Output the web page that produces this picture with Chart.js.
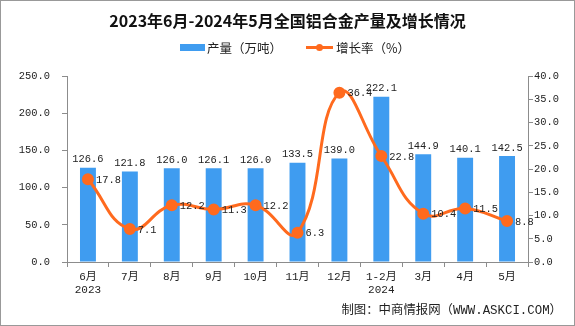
<!DOCTYPE html>
<html><head><meta charset="utf-8">
<script src="https://cdn.jsdelivr.net/npm/chart.js@4/dist/chart.umd.min.js"></script>
<style>html,body{margin:0;padding:0;background:#fff}#wrap{width:575px;height:326px;position:relative}</style>
</head><body><div id="wrap"><canvas id="c" width="575" height="326"></canvas></div>
<script>
const categories = [['6月','2023'],'7月','8月','9月','10月','11月','12月',['1-2月','2024'],'3月','4月','5月'];
const output = [126.6,121.8,126.0,126.1,126.0,133.5,139.0,222.1,144.9,140.1,142.5];
const growth = [17.8,7.1,12.2,11.3,12.2,6.3,36.4,22.8,10.4,11.5,8.8];
const titleText = '2023年6月-2024年5月全国铝合金产量及增长情况';
const legendBar = '产量（万吨）';
const legendLine = '增长率（%）';
const footer = '制图：中商情报网（WWW.ASKCI.COM）';

const MONO = '"Liberation Mono","DejaVu Sans Mono","Noto Sans CJK SC",monospace';
const BLUE = '#3f9cf0';
const ORANGE = '#ff6a1e';
const AXIS = '#8c8c8c';

const deco = {
  id:'deco',
  afterDatasetsDraw(chart){
    const ctx = chart.ctx;
    ctx.save();
    ctx.font = '10.4px ' + MONO;
    ctx.fillStyle = '#222';
    ctx.textAlign = 'center';
    ctx.textBaseline = 'bottom';
    chart.getDatasetMeta(1).data.forEach((b,i)=>{
      ctx.fillText(output[i].toFixed(1), b.x, b.y - 3);
    });
    ctx.textAlign = 'left';
    ctx.textBaseline = 'middle';
    chart.getDatasetMeta(0).data.forEach((p,i)=>{
      ctx.fillText(growth[i].toFixed(1), p.x + 8, p.y + 1);
    });
    ctx.restore();
  },
  afterDraw(chart){
    const ctx = chart.ctx;
    ctx.save();
    ctx.fillStyle = '#111';
    ctx.textAlign = 'center';
    ctx.textBaseline = 'middle';
    ctx.font = 'bold 16px "Noto Sans CJK SC","DejaVu Sans",sans-serif';
    ctx.fillText(titleText, 287.5, 21);
    // legend
    ctx.font = '12.5px "Noto Sans CJK SC",' + MONO;
    ctx.textAlign = 'left';
    ctx.fillStyle = BLUE;
    ctx.fillRect(180, 44, 25, 7);
    ctx.fillStyle = '#222';
    ctx.fillText(legendBar, 207, 48);
    ctx.strokeStyle = ORANGE; ctx.lineWidth = 3;
    ctx.beginPath(); ctx.moveTo(306, 47.5); ctx.lineTo(333, 47.5); ctx.stroke();
    ctx.fillStyle = ORANGE;
    ctx.beginPath(); ctx.arc(319.5, 47.5, 3.5, 0, Math.PI*2); ctx.fill();
    ctx.fillStyle = '#222';
    ctx.fillText(legendLine, 336, 48);
    // footer
    ctx.font = '12.4px ' + MONO;
    ctx.textAlign = 'right';
    ctx.fillText(footer, 562, 311);
    // frame
    ctx.strokeStyle = '#999'; ctx.lineWidth = 1;
    ctx.strokeRect(0.5, 0.5, 574, 325);
    ctx.restore();
  }
};

new Chart(document.getElementById('c'), {
  data:{
    labels: categories,
    datasets:[
      {type:'line', label:legendLine, data:growth, yAxisID:'y2', borderColor:ORANGE, backgroundColor:ORANGE,
       borderWidth:3, tension:0.45, pointRadius:4.5, pointHoverRadius:4.5, order:0},
      {type:'bar', label:legendBar, data:output, yAxisID:'y', backgroundColor:BLUE, barPercentage:0.38, categoryPercentage:1, order:1}
    ]
  },
  options:{
    responsive:false, animation:false,
    layout:{padding:{top:76, left:0, right:0, bottom:0}},
    plugins:{legend:{display:false}, title:{display:false}, tooltip:{enabled:false}},
    scales:{
      x:{
        grid:{display:true, drawOnChartArea:false, drawTicks:true, tickLength:5, color:AXIS, offset:true},
        border:{color:AXIS},
        ticks:{color:'#222', font:{family:MONO, size:11}, padding:3, maxRotation:0, autoSkip:false},
        afterFit(s){ s.height = 64; }
      },
      y:{
        position:'left', min:0, max:250,
        grid:{drawOnChartArea:false, tickLength:5, color:AXIS},
        border:{color:AXIS},
        ticks:{stepSize:50, color:'#222', font:{family:MONO, size:10.4}, padding:12, callback:v=>v.toFixed(1)},
        afterFit(s){ s.width = 67; }
      },
      y2:{
        position:'right', min:0, max:40,
        grid:{drawOnChartArea:false, tickLength:5, color:AXIS},
        border:{color:AXIS},
        ticks:{stepSize:5, color:'#222', font:{family:MONO, size:10.4}, padding:1, callback:v=>v.toFixed(1)},
        afterFit(s){ s.width = 47; }
      }
    }
  },
  plugins:[deco]
});
</script></body></html>
